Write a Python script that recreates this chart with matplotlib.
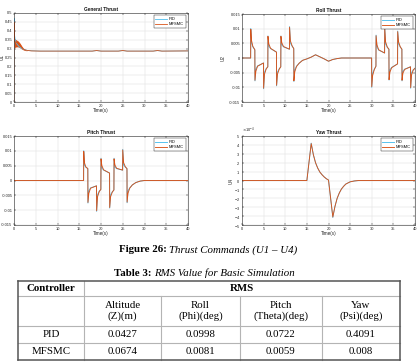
import matplotlib
matplotlib.use('Agg')
import matplotlib.pyplot as plt
from matplotlib.lines import Line2D
from matplotlib.ticker import FuncFormatter, ScalarFormatter

plt.rcParams['axes.unicode_minus'] = False
plt.rcParams['font.family'] = ['Liberation Sans', 'DejaVu Sans']

# ---------------- data ----------------
time_ticks = [0, 5, 10, 15, 20, 25, 30, 35, 40]
series_names = ['PID', 'MFSMC']

# General thrust U1
u1_pid_t = [0, 0.01, 0.1, 0.3, 0.7, 1.2, 2.0, 3.0, 4.0, 6.0, 18.0, 19.0, 20.0, 24.0, 25.0, 26.0, 32.0, 33.0, 34.0, 40.0]
u1_pid_v = [0, 0.47, 0.38, 0.345, 0.325, 0.31, 0.298, 0.29, 0.288, 0.286, 0.286, 0.289, 0.286, 0.286, 0.289, 0.286, 0.286, 0.289, 0.286, 0.287]
u1_mf_t = [0, 0.01, 0.08, 0.5, 1.0, 1.5, 2.0, 2.5, 3.0, 4.0, 6.0, 18.0, 19.0, 20.0, 24.0, 25.0, 26.0, 32.0, 33.0, 34.0, 40.0]
u1_mf_v = [0, 0.45, 0.34, 0.335, 0.33, 0.318, 0.30, 0.293, 0.29, 0.287, 0.286, 0.286, 0.289, 0.286, 0.286, 0.289, 0.286, 0.286, 0.289, 0.286, 0.287]
u1_band_t = [0.05, 0.3, 0.6, 1.0, 1.4, 1.8, 2.2, 2.6, 3.0]
u1_band_hi = [0.355, 0.353, 0.348, 0.342, 0.33, 0.314, 0.301, 0.294, 0.290]
u1_band_lo = [0.303, 0.308, 0.31, 0.309, 0.304, 0.297, 0.292, 0.289, 0.288]
u1_ticks = [0, 0.05, 0.1, 0.15, 0.2, 0.25, 0.3, 0.35, 0.4, 0.45, 0.5]

# Roll thrust U2
u2_t = [0, 2, 2.03, 2.2, 2.5, 2.97,
        3.0, 3.2, 3.6, 4.97,
        5.0, 5.2, 5.6, 5.97,
        6.0, 6.2, 6.6, 7.97,
        8.0, 8.2, 8.6, 8.97,
        9.0, 9.2, 9.6, 10.97,
        11.0, 11.2, 11.6, 11.97,
        12.0, 12.2, 12.6, 13.2, 14.0, 15.0, 16.0, 17.0, 18.0, 19.0, 20.0, 21.0, 22.0, 23.0, 29.97,
        30.0, 30.2, 30.6, 30.97,
        31.0, 31.2, 31.6, 32.97,
        33.0, 33.2, 33.6, 33.97,
        34.0, 34.2, 34.6, 35.97,
        36.0, 36.2, 36.6, 36.97,
        37.0, 37.2, 37.6, 38.97,
        39.0, 39.2, 39.6, 40.0]
u2_pid_v = [0, 0, 0.0100, 0.0052, 0.0038, 0.0028,
            -0.0078, -0.0038, -0.0027, -0.0017,
            -0.0105, -0.0048, -0.0036, -0.0030,
            0.0075, 0.0040, 0.0032, 0.0020,
            -0.0095, -0.0048, -0.0037, -0.0030,
            0.0075, 0.0045, 0.0038, 0.0030,
            0.0107, 0.0050, 0.0040, 0.0032,
            -0.0080, -0.0040, -0.0028, -0.0018, -0.0008, -0.0003, 0.0003, 0.0011, 0.0004, -0.0003, -0.0011, -0.0005, -0.0002, 0.0, 0.0,
            -0.0100, -0.0052, -0.0038, -0.0028,
            0.0078, 0.0038, 0.0027, 0.0017,
            0.0105, 0.0048, 0.0036, 0.0030,
            -0.0075, -0.0040, -0.0032, -0.0020,
            0.0092, 0.0048, 0.0037, 0.0030,
            -0.0078, -0.0045, -0.0038, -0.0030,
            -0.0103, -0.0050, -0.0040, -0.0035]
u2_mf_v = [0, 0, 0.0098, 0.0060, 0.0040, 0.0028,
           -0.0076, -0.0045, -0.0028, -0.0017,
           -0.0103, -0.0055, -0.0037, -0.0030,
           0.0074, 0.0048, 0.0033, 0.0020,
           -0.0093, -0.0055, -0.0038, -0.0030,
           0.0074, 0.0052, 0.0039, 0.0030,
           0.0105, 0.0058, 0.0041, 0.0032,
           -0.0078, -0.0047, -0.0029, -0.0018, -0.0008, -0.0003, 0.0003, 0.0011, 0.0004, -0.0003, -0.0011, -0.0005, -0.0002, 0.0, 0.0,
           -0.0098, -0.0060, -0.0039, -0.0028,
           0.0076, 0.0045, 0.0028, 0.0017,
           0.0103, 0.0055, 0.0037, 0.0030,
           -0.0074, -0.0048, -0.0033, -0.0020,
           0.0090, 0.0055, 0.0038, 0.0030,
           -0.0076, -0.0052, -0.0039, -0.0030,
           -0.0101, -0.0058, -0.0041, -0.0035]

# Pitch thrust U3
u3_t = [0, 16, 16.03, 16.2, 16.5, 16.97,
        17.0, 17.2, 17.6, 18.97,
        19.0, 19.2, 19.6, 19.97,
        20.0, 20.2, 20.6, 21.97,
        22.0, 22.2, 22.6, 22.97,
        23.0, 23.2, 23.6, 24.97,
        25.0, 25.2, 25.6, 25.97,
        26.0, 26.2, 26.6, 27.2, 28.0, 29.0, 30.0, 40.0]
u3_pid_v = [0, 0, 0.0100, 0.0052, 0.0045, 0.0040,
            -0.0076, -0.0035, -0.0025, -0.0018,
            -0.0104, -0.0048, -0.0036, -0.0030,
            0.0075, 0.0042, 0.0035, 0.0025,
            -0.0093, -0.0048, -0.0038, -0.0032,
            0.0075, 0.0045, 0.0040, 0.0035,
            0.0105, 0.0052, 0.0045, 0.0040,
            -0.0075, -0.0035, -0.0025, -0.0015, -0.0007, -0.0002, 0.0, 0.0]
u3_mf_v = [0, 0, 0.0098, 0.0060, 0.0046, 0.0040,
           -0.0074, -0.0043, -0.0026, -0.0018,
           -0.0102, -0.0055, -0.0037, -0.0030,
           0.0073, 0.0050, 0.0036, 0.0025,
           -0.0091, -0.0055, -0.0039, -0.0032,
           0.0073, 0.0052, 0.0041, 0.0035,
           0.0103, 0.0060, 0.0046, 0.0040,
           -0.0073, -0.0043, -0.0026, -0.0015, -0.0007, -0.0002, 0.0, 0.0]
u23_ticks = [-0.015, -0.01, -0.005, 0, 0.005, 0.01, 0.015]

# Yaw thrust U4
u4_t = [0, 15, 16, 16.5, 17, 17.5, 18, 18.5, 19, 19.5, 20, 21, 21.5, 22, 22.5, 23, 23.5, 24, 25, 26, 27, 40]
u4_pid_v = [0, 0, 4.2e-4, 2.9e-4, 2.0e-4, 1.4e-4, 0.95e-4, 0.65e-4, 0.4e-4, 0.2e-4, 0.05e-4,
            -4.15e-4, -2.9e-4, -2.0e-4, -1.4e-4, -0.95e-4, -0.65e-4, -0.4e-4, -0.15e-4, -0.05e-4, 0, 0]
u4_mf_v = [0, 0, 4.15e-4, 2.9e-4, 2.0e-4, 1.4e-4, 0.95e-4, 0.65e-4, 0.4e-4, 0.2e-4, 0.05e-4,
           -4.1e-4, -2.9e-4, -2.0e-4, -1.4e-4, -0.95e-4, -0.65e-4, -0.4e-4, -0.15e-4, -0.05e-4, 0, 0]
u4_ticks = [-5e-4, -4e-4, -3e-4, -2e-4, -1e-4, 0, 1e-4, 2e-4, 3e-4, 4e-4, 5e-4]

# Table
table_cols = ['Altitude\n(Z)(m)', 'Roll\n(Phi)(deg)', 'Pitch\n(Theta)(deg)', 'Yaw\n(Psi)(deg)']
table_rows = ['PID', 'MFSMC']
rms_pid = ['0.0427', '0.0998', '0.0722', '0.4091']
rms_mfsmc = ['0.0674', '0.0081', '0.0059', '0.008']

# ---------------- figure ----------------
W, H = 418, 364
fig = plt.figure(figsize=(W / 100, H / 100), dpi=100)

C_PID = '#4DBEEE'
C_MF = '#D95319'
TXT = '#262626'


def box(l, t, r, b):
    return [l / W, 1 - b / H, (r - l) / W, (b - t) / H]


gfmt = FuncFormatter(lambda v, p: '%g' % round(v, 6))


def style(ax, title, ylabel, ylab_x, ylim, yticks, fmt=gfmt):
    ax.set_xlim(0, 40)
    ax.set_xticks(time_ticks)
    ax.set_ylim(ylim)
    ax.set_yticks(yticks)
    if fmt is not None:
        ax.yaxis.set_major_formatter(fmt)
    ax.grid(True, color='#dedede', lw=0.35)
    ax.set_axisbelow(True)
    ax.tick_params(direction='in', length=1.5, width=0.35, labelsize=2.9, pad=1.2,
                   colors=TXT, top=True, right=True)
    for s in ax.spines.values():
        s.set_linewidth(0.4)
        s.set_color(TXT)
    ax.set_title(title, fontsize=3.4, fontweight='bold', pad=1.5, color='#111111')
    ax.set_xlabel('Time(s)', fontsize=3.3, labelpad=0.5, color=TXT)
    if ylabel:
        ax.set_ylabel(ylabel, fontsize=3.3, color=TXT)
        ax.yaxis.set_label_coords(ylab_x, 0.5)


def legend(ax):
    lg = ax.legend(series_names, loc='upper right', fontsize=2.9, handlelength=2.8,
                   borderpad=0.4, labelspacing=0.25, handletextpad=0.6,
                   fancybox=False, framealpha=1, borderaxespad=0.6)
    lg.get_frame().set_linewidth(0.35)
    lg.get_frame().set_edgecolor('#333333')


# U1
ax1 = fig.add_axes(box(14, 13, 188, 102))
ax1.plot(u1_pid_t, u1_pid_v, color=C_PID, lw=0.6)
ax1.plot(u1_mf_t, u1_mf_v, color=C_MF, lw=0.6)
ax1.fill_between(u1_band_t, u1_band_lo, u1_band_hi, color=C_MF, lw=0)
style(ax1, 'General Thrust', 'U1', -0.055, (0, 0.5), u1_ticks)
legend(ax1)

# U2
ax2 = fig.add_axes(box(242, 14, 415, 102))
ax2.plot(u2_t, u2_pid_v, color=C_PID, lw=0.65)
ax2.plot(u2_t, u2_mf_v, color=C_MF, lw=0.65)
style(ax2, 'Roll Thrust', 'U2', -0.095, (-0.015, 0.015), u23_ticks)
legend(ax2)

# U3
ax3 = fig.add_axes(box(14, 136, 188, 225))
ax3.plot(u3_t, u3_pid_v, color=C_PID, lw=0.65)
ax3.plot(u3_t, u3_mf_v, color=C_MF, lw=0.65)
style(ax3, 'Pitch Thrust', None, 0, (-0.015, 0.015), u23_ticks)
legend(ax3)

# U4
ax4 = fig.add_axes(box(242, 136, 415, 225))
ax4.plot(u4_t, u4_pid_v, color=C_PID, lw=0.65)
ax4.plot(u4_t, u4_mf_v, color=C_MF, lw=0.65)
sf = ScalarFormatter(useMathText=True)
sf.set_powerlimits((0, 0))
style(ax4, 'Yaw Thrust', 'U4', -0.05, (-5e-4, 5e-4), u4_ticks, fmt=sf)
ax4.yaxis.get_offset_text().set_fontsize(2.9)
legend(ax4)

# ---------------- captions ----------------
SERIF = ['Liberation Serif', 'DejaVu Serif']


def ftxt(x, y, s, **kw):
    fig.text(x / W, 1 - y / H, s, family=SERIF, color='#000000', **kw)


ftxt(167, 250, 'Figure 26:', fontsize=7.8, fontweight='bold', ha='right', va='center')
ftxt(169, 250, 'Thrust Commands (U1 \u2013 U4)', fontsize=7.8, style='italic', ha='left', va='center')
ftxt(152, 273, 'Table 3:', fontsize=7.8, fontweight='bold', ha='right', va='center')
ftxt(154, 273, 'RMS Value for Basic Simulation', fontsize=7.8, style='italic', ha='left', va='center')

# ---------------- table ----------------
xs = [18, 84, 161, 240, 322, 400]
ys = [281, 296, 326, 343, 360]
INNER = '#b4b4b4'
OUTER = '#555555'


def hline(y, x0, x1, c, lw):
    fig.add_artist(Line2D([x0 / W, x1 / W], [1 - y / H, 1 - y / H], color=c, lw=lw,
                          transform=fig.transFigure, solid_capstyle='projecting'))


def vline(x, y0, y1, c, lw):
    fig.add_artist(Line2D([x / W, x / W], [1 - y0 / H, 1 - y1 / H], color=c, lw=lw,
                          transform=fig.transFigure, solid_capstyle='projecting'))


for y in ys[1:-1]:
    hline(y, xs[0], xs[-1], INNER, 0.8)
vline(xs[1], ys[0], ys[-1], INNER, 0.8)
for x in xs[2:-1]:
    vline(x, ys[1], ys[-1], INNER, 0.8)
hline(ys[0], xs[0], xs[-1], OUTER, 1.1)
hline(ys[-1], xs[0], xs[-1], OUTER, 1.1)
vline(xs[0], ys[0], ys[-1], OUTER, 1.1)
vline(xs[-1], ys[0], ys[-1], OUTER, 1.1)

TFS = 7.8
ftxt((xs[0] + xs[1]) / 2, (ys[0] + ys[1]) / 2, 'Controller', fontsize=TFS, fontweight='bold', ha='center', va='center')
ftxt((xs[1] + xs[-1]) / 2, (ys[0] + ys[1]) / 2, 'RMS', fontsize=TFS, fontweight='bold', ha='center', va='center')
for i, lab in enumerate(table_cols):
    cx = (xs[i + 1] + xs[i + 2]) / 2
    ftxt(cx, (ys[1] + ys[2]) / 2, lab, fontsize=TFS, ha='center', va='center', linespacing=1.15)
for r, (name, vals) in enumerate(zip(table_rows, [rms_pid, rms_mfsmc])):
    cy = (ys[2 + r] + ys[3 + r]) / 2
    ftxt((xs[0] + xs[1]) / 2, cy, name, fontsize=TFS, ha='center', va='center')
    for i, v in enumerate(vals):
        ftxt((xs[i + 1] + xs[i + 2]) / 2, cy, v, fontsize=TFS, ha='center', va='center')

fig.savefig('out.png', dpi=100)
